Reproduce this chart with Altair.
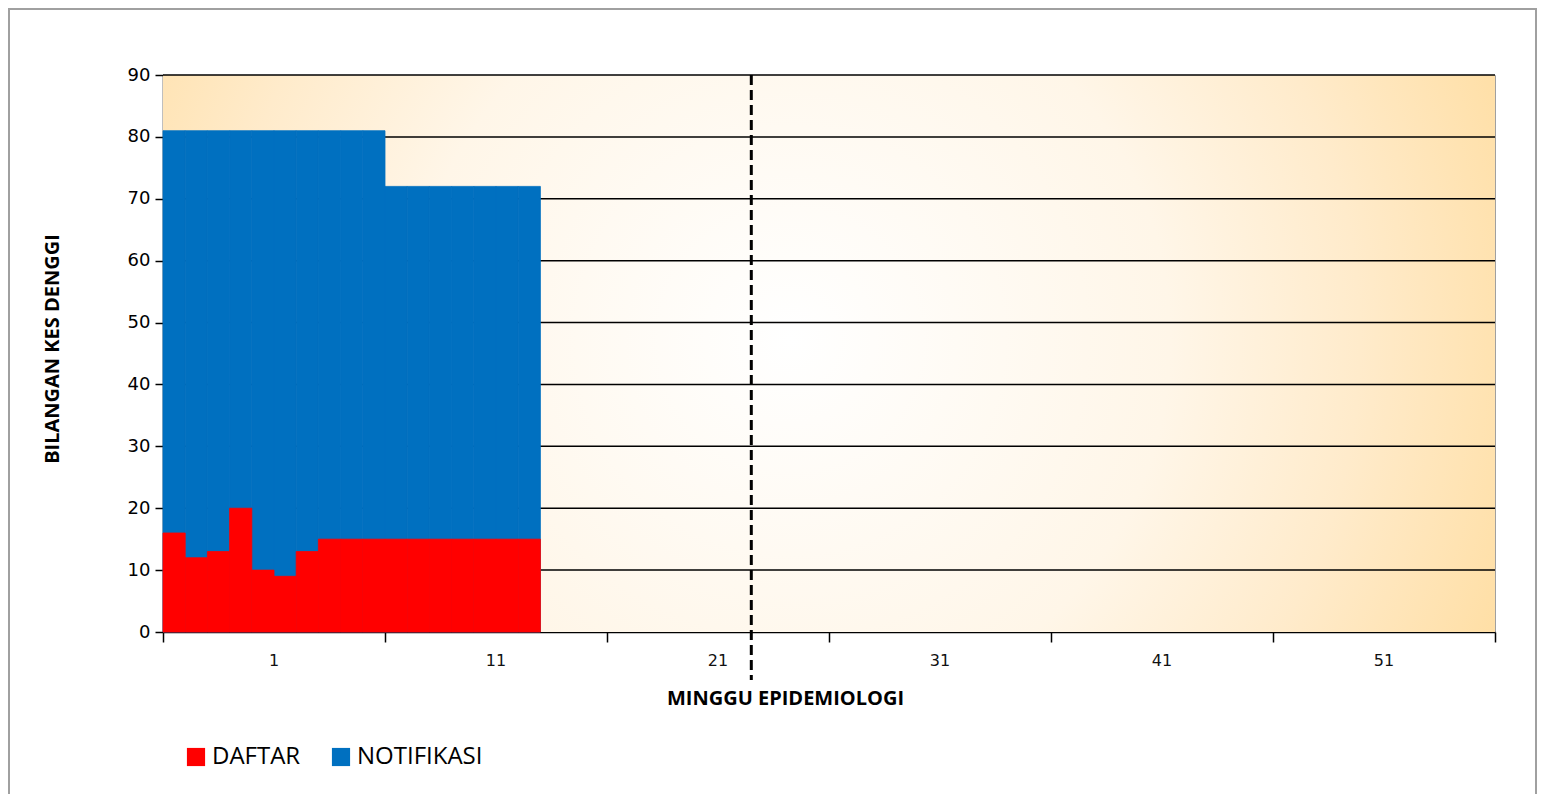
import altair as alt
import pandas as pd

# ---- data ----
weeks = [1, 2, 3, 4, 5, 6, 7, 8, 9, 10, 11, 12, 13, 14, 15, 16, 17]
daftar = [16, 12, 13, 20, 10, 9, 13, 15, 15, 15, 15, 15, 15, 15, 15, 15, 15]
notifikasi = [81, 81, 81, 81, 81, 81, 81, 81, 81, 81, 72, 72, 72, 72, 72, 72, 72]
series_names = ["DAFTAR", "NOTIFIKASI"]
series_colors = ["#FF0000", "#0070C0"]
y_ticks = [0, 10, 20, 30, 40, 50, 60, 70, 80, 90]
x_tick_marks = [0, 10, 20, 30, 40, 50, 60]
x_tick_labels = ["1", "11", "21", "31", "41", "51"]
x_label_pos = [5, 15, 25, 35, 45, 55]
current_week_line = [26.5]

W, H = 1332, 557

def frame(vals, name):
    return pd.DataFrame({
        "start": [w - 1 for w in weeks],
        "end": weeks,
        "value": vals,
        "zero": [0] * len(weeks),
        "series": [name] * len(weeks),
    })

df_d = frame(daftar, "DAFTAR")
df_n = frame(notifikasi, "NOTIFIKASI")

xscale = alt.Scale(domain=[0, 60], nice=False, zero=False)
yscale = alt.Scale(domain=[0, 90], nice=False)

xaxis = alt.Axis(values=x_tick_marks, labels=False, tickSize=10, tickColor="black",
                 tickWidth=1.5, domainColor="black", domainWidth=1.5, grid=False,
                 title="MINGGU EPIDEMIOLOGI", titleFont="Open Sans", titleFontSize=20,
                 titleFontWeight="bold", titleColor="black", titleX=622, titleY=66,
                 titleBaseline="middle", titleAlign="center")
yaxis = alt.Axis(values=y_ticks, tickSize=8, tickColor="black", tickWidth=1.5,
                 domainColor="black", domainWidth=1.5, grid=False,
                 labelFont="DejaVu Sans", labelFontSize=18, labelColor="black", labelPadding=5,
                 title="BILANGAN KES DENGGI", titleFont="Open Sans", titleFontSize=20,
                 titleFontWeight="bold", titleColor="black", titleX=-111, titleY=H / 2 - 5,
                 titleAngle=-90, titleBaseline="middle", titleAlign="center")

def X(field, **kw):
    return alt.X(field, scale=xscale, axis=xaxis, **kw)

def Y(field, **kw):
    return alt.Y(field, scale=yscale, axis=yaxis, **kw)

cscale = alt.Scale(domain=series_names, range=series_colors)
color = alt.Color("series:N", scale=cscale,
                  legend=alt.Legend(title=None, orient="none", direction="horizontal",
                                    legendX=21, legendY=670, symbolType="square",
                                    symbolSize=330, symbolStrokeWidth=0, symbolOpacity=1,
                                    labelFont="Open Sans", labelFontSize=24, labelColor="black",
                                    labelOffset=4, columnPadding=28))
stroke = alt.Stroke("series:N", scale=cscale, legend=None)

# circular radial background (square rect, clipped to the plot area)
R = 760
CX, CY = 627, 265
gradient = {
    "gradient": "radial",
    "x1": 0.5, "y1": 0.5, "r1": 0,
    "x2": 0.5, "y2": 0.5, "r2": 0.5,
    "stops": [
        {"offset": 0, "color": "#FFFFFF"},
        {"offset": 0.5, "color": "#FFF6E8"},
        {"offset": 0.75, "color": "#FFEBCB"},
        {"offset": 1, "color": "#FFDFA6"},
    ],
}

bg = alt.Chart(pd.DataFrame({"a": [0]})).mark_rect(fill=gradient, clip=True).encode(
    x=alt.value(CX - R), x2=alt.value(CX + R), y=alt.value(CY - R), y2=alt.value(CY + R))

grid = alt.Chart(pd.DataFrame({"v": y_ticks[1:]})).mark_rule(color="black", strokeWidth=1.5).encode(
    y=Y("v:Q"))

bars_n = alt.Chart(df_n).mark_rect(strokeWidth=0.8).encode(
    x=X("start:Q"), x2="end:Q", y=Y("value:Q"), y2="zero:Q", color=color, stroke=stroke)
bars_d = alt.Chart(df_d).mark_rect(strokeWidth=0.8).encode(
    x=X("start:Q"), x2="end:Q", y=Y("value:Q"), y2="zero:Q", color=color, stroke=stroke)

labels = alt.Chart(pd.DataFrame({"p": x_label_pos, "t": x_tick_labels})).mark_text(
    font="DejaVu Sans", fontSize=16, color="#111", baseline="middle").encode(
    x=X("p:Q"), y=alt.value(H + 29), text="t:N")

vline = alt.Chart(pd.DataFrame({"w": current_week_line})).mark_rule(
    color="black", strokeWidth=3, strokeDash=[10, 5], clip=False).encode(
    x=X("w:Q"), y=alt.value(0), y2=alt.value(H + 48))

border = alt.Chart(pd.DataFrame({"a": [0]})).mark_rect(
    fill=None, stroke="#A0A0A0", strokeWidth=2, clip=False).encode(
    x=alt.value(-154), x2=alt.value(1373), y=alt.value(-66), y2=alt.value(740))

chart = alt.layer(bg, grid, bars_n, bars_d, labels, vline, border).properties(
    width=W, height=H,
    padding={"left": 155, "top": 67, "right": 42, "bottom": 162},
    autosize=alt.AutoSizeParams(type="none"),
).configure_view(stroke="#A0A0A0", strokeWidth=1)

chart.save("out.html", embed_options={"renderer": "svg", "actions": False})
